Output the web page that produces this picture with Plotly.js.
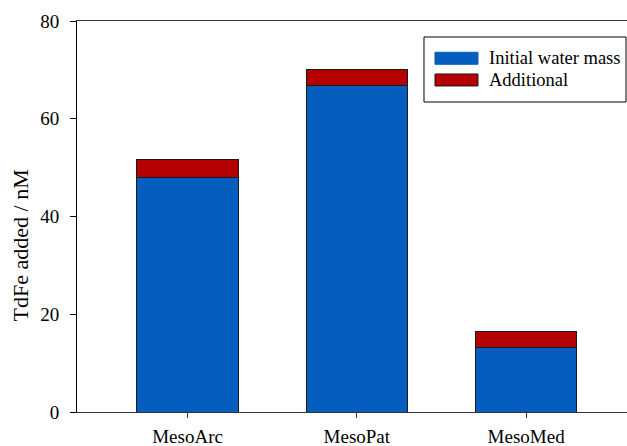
<!DOCTYPE html>
<html>
<head>
<meta charset="utf-8">
<script src="https://cdn.plot.ly/plotly-3.0.1.min.js"></script>
<style>
  html, body { margin: 0; padding: 0; background: #ffffff; }
  #chart { width: 627px; height: 446px; }
</style>
</head>
<body>
<div id="chart"></div>
<script>
// Total dissolved Fe added per mesocosm experiment (nM)
const sites = ['MesoArc', 'MesoPat', 'MesoMed'];
const initialWaterMass = [47.9, 66.8, 13.2];
const additional = [3.8, 3.3, 3.2];
const seriesNames = ['Initial water mass', 'Additional'];
const yTicks = [0, 20, 40, 60, 80];

const serif = 'Liberation Serif';
const blue = '#055EBE';
const red = '#B40000';
const outline = '#1a1a1a';

const traces = [
  {
    type: 'bar',
    name: seriesNames[0],
    x: sites,
    y: initialWaterMass,
    marker: { color: blue, line: { color: outline, width: 1 } },
    showlegend: false
  },
  {
    type: 'bar',
    name: seriesNames[1],
    x: sites,
    y: additional,
    marker: { color: red, line: { color: outline, width: 1 } },
    showlegend: false
  }
];

// Boxed legend drawn in plot-area paper coordinates
const legendShapes = [
  { type: 'rect', xref: 'paper', yref: 'paper', x0: 0.6309, x1: 0.9982, y0: 0.7928, y1: 0.9591,
    line: { color: '#000000', width: 1 }, fillcolor: '#ffffff', layer: 'above' },
  { type: 'rect', xref: 'paper', yref: 'paper', x0: 0.6509, x1: 0.7291, y0: 0.8893, y1: 0.9200,
    line: { color: blue, width: 1 }, fillcolor: blue, layer: 'above' },
  { type: 'rect', xref: 'paper', yref: 'paper', x0: 0.6509, x1: 0.7291, y0: 0.8338, y1: 0.8645,
    line: { color: outline, width: 1 }, fillcolor: red, layer: 'above' }
];
const legendLabels = seriesNames.map((name, i) => ({
  text: name,
  xref: 'paper', yref: 'paper',
  x: 0.7455, y: i === 0 ? 0.9054 : 0.8491,
  xanchor: 'left', yanchor: 'middle',
  showarrow: false,
  font: { family: serif, size: 18.5, color: '#000000' }
}));

const layout = {
  width: 627,
  height: 446,
  margin: { l: 77, r: 0, t: 21, b: 34, pad: 0 },
  paper_bgcolor: '#ffffff',
  plot_bgcolor: '#ffffff',
  barmode: 'stack',
  bargap: 0.4,
  showlegend: false,
  font: { family: serif, size: 19, color: '#000000' },
  xaxis: {
    type: 'category',
    range: [-0.653, 2.596],
    showline: true,
    linecolor: '#333333',
    linewidth: 1,
    mirror: true,
    ticks: 'outside',
    ticklen: 5,
    tickcolor: '#333333',
    ticklabelstandoff: 2,
    showgrid: false,
    zeroline: false,
    tickfont: { family: serif, size: 19, color: '#000000' }
  },
  yaxis: {
    range: [0, 80],
    tickvals: yTicks,
    ticktext: yTicks.map(String),
    showline: true,
    linecolor: '#000000',
    linewidth: 1,
    ticks: 'outside',
    ticklen: 6,
    tickcolor: '#000000',
    ticklabelstandoff: 7,
    showgrid: false,
    zeroline: false,
    tickfont: { family: serif, size: 19, color: '#000000' }
  },
  shapes: legendShapes,
  annotations: legendLabels.concat([
    {
      text: 'TdFe added / nM',
      xref: 'paper', yref: 'paper',
      x: -0.103, y: 0.427,
      xanchor: 'center', yanchor: 'middle',
      textangle: -90,
      showarrow: false,
      font: { family: serif, size: 22, color: '#000000' }
    }
  ])
};

Plotly.newPlot('chart', traces, layout, { displayModeBar: false, staticPlot: true });
</script>
</body>
</html>
